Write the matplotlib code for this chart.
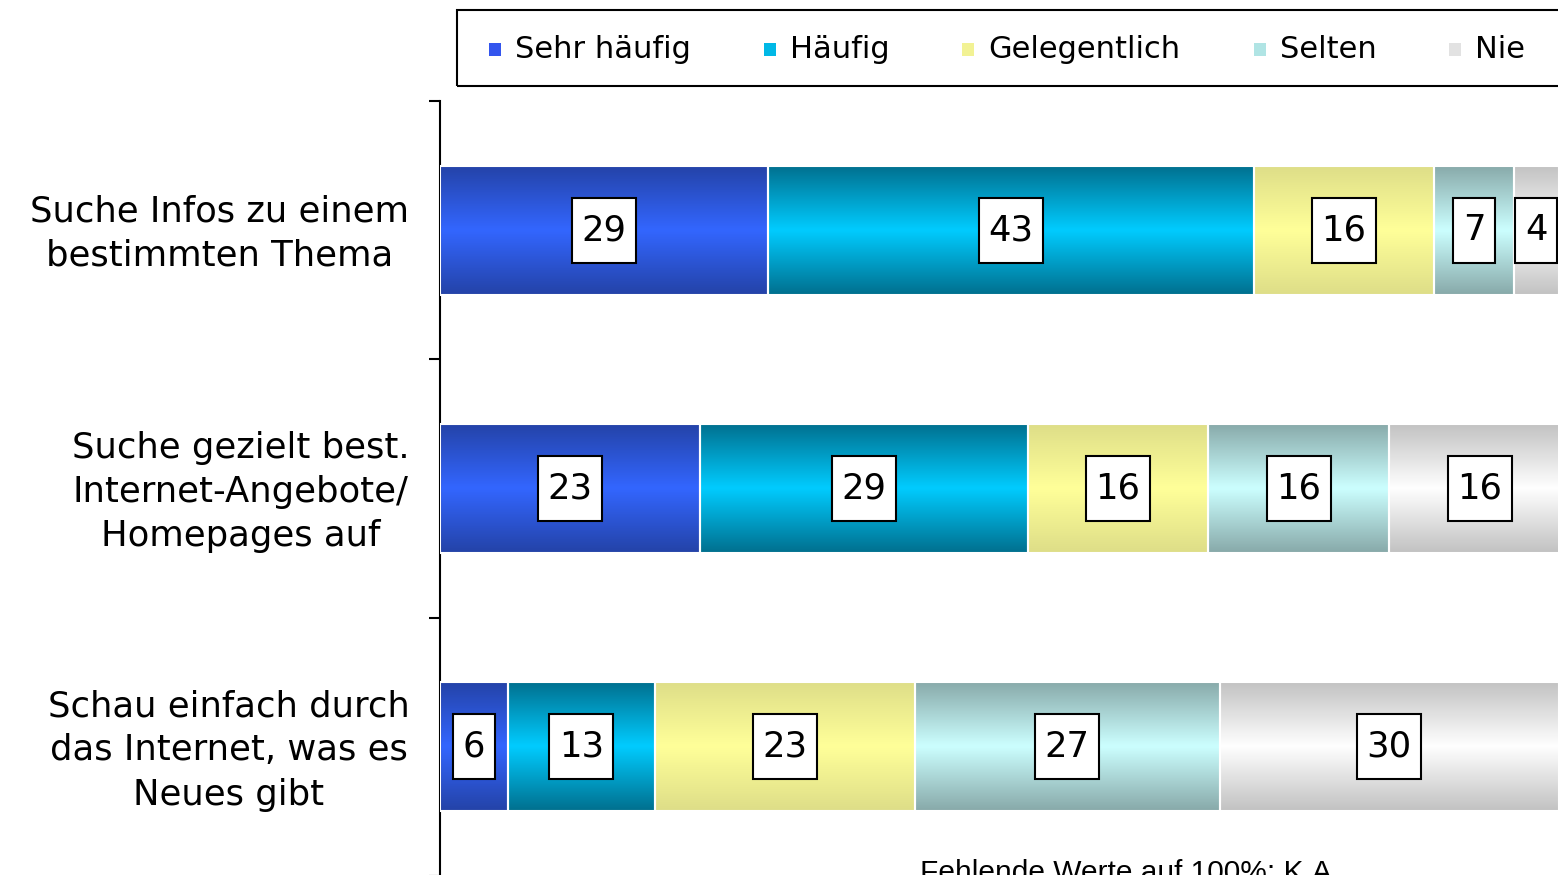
import numpy as np
import matplotlib.pyplot as plt
import matplotlib.transforms as mtransforms
from matplotlib.colors import to_rgb
from matplotlib.patches import Rectangle

# Daten
categories = ['Suche Infos zu einem\nbestimmten Thema',
              'Suche gezielt best.\nInternet-Angebote/\nHomepages auf',
              'Schau einfach durch\ndas Internet, was es\nNeues gibt']
series = ['Sehr häufig', 'Häufig', 'Gelegentlich', 'Selten', 'Nie']
sehr_haeufig = [29, 23, 6]
haeufig = [43, 29, 13]
gelegentlich = [16, 16, 23]
selten = [7, 16, 27]
nie = [4, 16, 30]
footnote = 'Fehlende Werte auf 100%: K.A'

values = [sehr_haeufig, haeufig, gelegentlich, selten, nie]
edge_cols = ['#2443a8', '#00708f', '#dede88', '#88aaaa', '#c2c2c2']
mid_cols = ['#3366ff', '#00ccff', '#ffff99', '#ccffff', '#ffffff']
legend_cols = ['#3355ee', '#00b8e6', '#f2f294', '#b0e4e4', '#e2e2e2']


def gradient(c_edge, c_mid, n=64):
    a = np.array(to_rgb(c_edge))
    b = np.array(to_rgb(c_mid))
    t = 1 - np.abs(np.linspace(-1, 1, n))
    return (a[None, :] + (b - a)[None, :] * t[:, None])[:, None, :]


W, H = 1558, 875
fig = plt.figure(figsize=(W / 100, H / 100), dpi=100)
ax = fig.add_axes([440 / W, -1 / H, 1130 / W, 775 / H])

y = np.arange(len(categories))
left = np.zeros(len(categories))
labels = []
for vals, ce, cm in zip(values, edge_cols, mid_cols):
    vals = np.array(vals)
    bars = ax.barh(y, vals, left=left, height=0.5, color='none',
                   edgecolor='white', lw=1.5, zorder=3)
    grad = gradient(ce, cm)
    for b, v in zip(bars, vals):
        x0, y0, w, h = b.get_x(), b.get_y(), b.get_width(), b.get_height()
        ax.imshow(grad, extent=(x0, x0 + w, y0, y0 + h), aspect='auto',
                  interpolation='bilinear', zorder=2)
        t = ax.text(x0 + w / 2, y0 + h / 2, str(v), ha='center', va='center',
                    fontsize=25.5, zorder=5)
        labels.append((t, x0 + w / 2, y0 + h / 2))
    left += vals

ax.set_xlim(0, 100)
ax.set_ylim(2.5, -0.5)
for s in ['top', 'right', 'bottom']:
    ax.spines[s].set_visible(False)
ax.spines['left'].set_linewidth(1.5)
ax.set_xticks([])
ax.set_yticks(y, categories, fontsize=25.5, multialignment='center',
              linespacing=1.38)
ax.tick_params(axis='y', which='major', length=0, pad=22)
ax.set_yticks([-0.5, 0.5, 1.5, 2.5], minor=True)
ax.tick_params(axis='y', which='minor', length=8, width=1.5, direction='out')
shift = mtransforms.ScaledTranslation(0, 5 / 100, fig.dpi_scale_trans)
for lab in ax.get_yticklabels():
    lab.set_transform(lab.get_transform() + shift)

# weisse Kästchen um die Werte
fig.canvas.draw()
renderer = fig.canvas.get_renderer()
for t, cx, cy in labels:
    bb = t.get_window_extent(renderer)
    px, py = ax.transData.transform((cx, cy))
    bw, bh = bb.width + 19, 65
    (ax0, ay0), (ax1, ay1) = ax.transAxes.inverted().transform(
        [(px - bw / 2, py - bh / 2), (px + bw / 2, py + bh / 2)])
    ax.add_patch(Rectangle((ax0, ay0), ax1 - ax0, ay1 - ay0,
                           transform=ax.transAxes, fc='white', ec='black',
                           lw=1.5, zorder=4))

# Legende
fig.patches.append(Rectangle((457 / W, 1 - 86 / H), 1200 / W, 76 / H,
                             transform=fig.transFigure, fill=False,
                             ec='black', lw=1.5))
marker_x = [489, 764, 962, 1254, 1449]
for name, c, mx in zip(series, legend_cols, marker_x):
    fig.patches.append(Rectangle((mx / W, 1 - 56 / H), 12 / W, 13 / H,
                                 transform=fig.transFigure, fc=c, ec='none'))
    fig.text((mx + 26) / W, 1 - 50 / H, name, fontsize=22, va='center')

fig.text(920 / W, 1 - 881 / H, footnote, fontsize=21.5,
         family='Liberation Sans', va='baseline')

fig.savefig('out.png', dpi=100)
